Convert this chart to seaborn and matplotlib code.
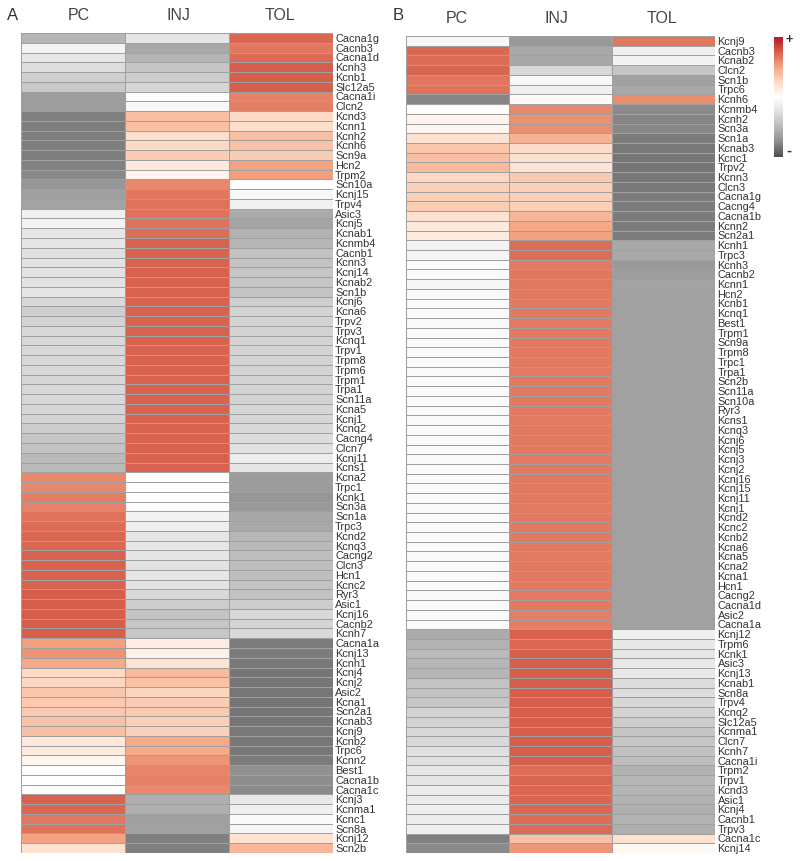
import pandas as pd
import seaborn as sns
import matplotlib.pyplot as plt
from matplotlib.colors import LinearSegmentedColormap

groups = ["PC", "INJ", "TOL"]

genes_a = ["Cacna1g", "Cacnb3", "Cacna1d", "Kcnh3", "Kcnb1", "Slc12a5", "Cacna1i", "Clcn2", "Kcnd3", "Kcnn1",
           "Kcnh2", "Kcnh6", "Scn9a", "Hcn2", "Trpm2", "Scn10a", "Kcnj15", "Trpv4", "Asic3", "Kcnj5",
           "Kcnab1", "Kcnmb4", "Cacnb1", "Kcnn3", "Kcnj14", "Kcnab2", "Scn1b", "Kcnj6", "Kcna6", "Trpv2",
           "Trpv3", "Kcnq1", "Trpv1", "Trpm8", "Trpm6", "Trpm1", "Trpa1", "Scn11a", "Kcna5", "Kcnj1",
           "Kcnq2", "Cacng4", "Clcn7", "Kcnj11", "Kcns1", "Kcna2", "Trpc1", "Kcnk1", "Scn3a", "Scn1a",
           "Trpc3", "Kcnd2", "Kcnq3", "Cacng2", "Clcn3", "Hcn1", "Kcnc2", "Ryr3", "Asic1", "Kcnj16",
           "Cacnb2", "Kcnh7", "Cacna1a", "Kcnj13", "Kcnh1", "Kcnj4", "Kcnj2", "Asic2", "Kcna1", "Scn2a1",
           "Kcnab3", "Kcnj9", "Kcnb2", "Trpc6", "Kcnn2", "Best1", "Cacna1b", "Cacna1c", "Kcnj3", "Kcnma1",
           "Kcnc1", "Scn8a", "Kcnj12", "Scn2b"]

pc_a = [-.52, -.10, -.20, -.27, -.36, -.40, -.66, -.66, -.80, -.81,
        -.81, -.81, -.81, -.79, -.77, -.70, -.65, -.62, -.12, -.10,
        -.20, -.20, -.25, -.22, -.22, -.22, -.20, -.30, -.36, -.33,
        -.30, -.30, -.30, -.30, -.30, -.31, -.31, -.31, -.32, -.33,
        -.38, -.42, -.44, -.50, -.50, .60, .60, .64, .62, .68,
        .70, .72, .72, .74, .74, .74, .74, .75, .75, .75,
        .75, .75, .52, .56, .47, .25, .27, .34, .33, .33,
        .37, .38, .16, .15, .07, 0, 0, .01, .74, .72,
        .66, .68, .50, .20]
inj_a = [-.20, -.60, -.53, -.42, -.38, -.32, -.02, -.07, .38, .38,
         .22, .25, .32, .15, .08, .60, .66, .68, .68, .68,
         .70, .74, .74, .74, .74, .74, .74, .74, .74, .74,
         .74, .74, .74, .74, .74, .74, .74, .74, .74, .74,
         .74, .74, .74, .74, .74, 0, 0, 0, -.03, -.10,
         -.14, -.20, -.20, -.20, -.22, -.20, -.22, -.30, -.38, -.44,
         -.42, -.42, .12, .10, .18, .40, .36, .28, .32, .33,
         .30, .30, .47, .47, .55, .61, .63, .60, -.56, -.56,
         -.65, -.64, -.80, -.80]
tol_a = [.72, .66, .71, .75, .75, .75, .62, .64, .25, .22,
         .38, .36, .32, .50, .52, 0, -.07, -.12, -.58, -.62,
         -.54, -.52, -.44, -.44, -.42, -.42, -.44, -.36, -.33, -.33,
         -.33, -.33, -.33, -.33, -.33, -.33, -.33, -.33, -.32, -.32,
         -.30, -.27, -.25, -.15, -.20, -.67, -.67, -.70, -.68, -.60,
         -.60, -.52, -.50, -.47, -.48, -.47, -.44, -.44, -.38, -.30,
         -.33, -.30, -.82, -.82, -.83, -.84, -.84, -.84, -.84, -.84,
         -.84, -.83, -.83, -.83, -.82, -.73, -.75, -.76, -.18, -.13,
         -.05, -.08, .20, .42]

genes_b = ["Kcnj9", "Cacnb3", "Kcnab2", "Clcn2", "Scn1b", "Trpc6", "Kcnh6", "Kcnmb4", "Kcnh2", "Scn3a",
           "Scn1a", "Kcnab3", "Kcnc1", "Trpv2", "Kcnn3", "Clcn3", "Cacna1g", "Cacng4", "Cacna1b", "Kcnn2",
           "Scn2a1", "Kcnh1", "Trpc3", "Kcnh3", "Cacnb2", "Kcnn1", "Hcn2", "Kcnb1", "Kcnq1", "Best1",
           "Trpm1", "Scn9a", "Trpm8", "Trpc1", "Trpa1", "Scn2b", "Scn11a", "Scn10a", "Ryr3", "Kcns1",
           "Kcnq3", "Kcnj6", "Kcnj5", "Kcnj3", "Kcnj2", "Kcnj16", "Kcnj15", "Kcnj11", "Kcnj1", "Kcnd2",
           "Kcnc2", "Kcnb2", "Kcna6", "Kcna5", "Kcna2", "Kcna1", "Hcn1", "Cacng2", "Cacna1d", "Asic2",
           "Cacna1a", "Kcnj12", "Trpm6", "Kcnk1", "Asic3", "Kcnj13", "Kcnab1", "Scn8a", "Trpv4", "Kcnq2",
           "Slc12a5", "Kcnma1", "Clcn7", "Kcnh7", "Cacna1i", "Trpm2", "Trpv1", "Kcnd3", "Asic1", "Kcnj4",
           "Cacnb1", "Trpv3", "Cacna1c", "Kcnj14"]

pc_b = [-.07, .72, .70, .73, .67, .68, -.78, .03, .08, .07,
        .20, .35, .38, .40, .27, .30, .30, .32, .20, .15,
        .15, -.10, -.08, -.03, -.05, -.07, -.05, -.05, -.05, -.05,
        -.05, -.05, -.05, -.05, -.05, -.05, -.05, -.05, -.05, -.05,
        -.05, -.05, -.05, -.05, -.05, -.05, -.05, -.05, -.05, -.05,
        -.05, -.05, -.05, -.05, -.05, -.05, -.05, -.05, -.05, -.05,
        -.04, -.58, -.54, -.50, -.52, -.52, -.44, -.44, -.42, -.33,
        -.33, -.30, -.30, -.25, -.25, -.20, -.20, -.16, -.16, -.14,
        -.15, -.12, -.80, -.76]
inj_b = [-.68, -.60, -.60, -.30, -.06, -.12, .04, .60, .57, .58,
         .43, .24, .20, .18, .33, .30, .30, .30, .42, .48,
         .50, .70, .70, .65, .66, .66, .65, .65, .65, .65,
         .65, .65, .65, .65, .65, .65, .65, .65, .65, .65,
         .65, .65, .65, .65, .65, .65, .65, .65, .65, .65,
         .65, .65, .65, .65, .65, .65, .65, .65, .65, .64,
         .64, .74, .72, .75, .75, .75, .75, .75, .75, .75,
         .75, .75, .75, .75, .75, .70, .73, .72, .72, .72,
         .70, .71, .36, .55]
tol_b = [.66, -.13, -.10, -.42, -.64, -.60, .58, -.76, -.78, -.77,
         -.82, -.83, -.84, -.84, -.83, -.83, -.82, -.82, -.82, -.82,
         -.82, -.60, -.60, -.68, -.66, -.63, -.64, -.64, -.64, -.64,
         -.64, -.64, -.64, -.64, -.64, -.64, -.64, -.64, -.64, -.64,
         -.64, -.64, -.64, -.64, -.64, -.64, -.64, -.64, -.64, -.64,
         -.64, -.64, -.64, -.64, -.64, -.64, -.64, -.64, -.64, -.64,
         -.64, -.12, -.18, -.20, -.18, -.18, -.28, -.28, -.30, -.33,
         -.38, -.42, -.42, -.45, -.48, -.54, -.52, -.53, -.54, -.56,
         -.54, -.57, .20, .04]

plt.rcParams['font.family'] = ['Liberation Sans', 'DejaVu Sans']

# same look as RdGy_r but cut at both dark ends
heat_colors = ["#4d4d4d", "#8e8e8e", "#bababa", "#e0e0e0", "#ffffff", "#fddbc7", "#f4a582", "#d6604d", "#b2182b"]
heat_cmap = LinearSegmentedColormap.from_list("heat", heat_colors)


def draw_panel(ax, genes, pc, inj, tol, head_x, cbar_ax=None):
    table = pd.DataFrame({"PC": pc, "INJ": inj, "TOL": tol}, index=genes)[groups]
    sns.heatmap(table, ax=ax, cmap=heat_cmap, vmin=-1, vmax=1, linewidths=0.45, linecolor="#a0a0a0",
                yticklabels=True, cbar=cbar_ax is not None, cbar_ax=cbar_ax)
    ax.xaxis.tick_top()
    ax.yaxis.tick_right()
    # the column heads are not quite centred in the source
    ax.set_xticks(head_x, groups)
    ax.tick_params(axis="x", length=0, pad=7, labelsize=11.5, labelcolor="#444444")
    ax.tick_params(axis="y", length=0, pad=1.5, labelsize=7.9, labelcolor="#333333", labelrotation=0)


W, H = 800, 861
fig = plt.figure(figsize=(W / 100, H / 100), dpi=100)
ax_a = fig.add_axes([20.5 / W, 1 - 853 / H, (333 - 20.5) / W, (853 - 33) / H])
ax_b = fig.add_axes([406.0 / W, 1 - 853 / H, (715.5 - 406) / W, (853 - 36) / H])
cbar_ax = fig.add_axes([774 / W, 1 - 157 / H, 9 / W, 120 / H])

draw_panel(ax_a, genes_a, pc_a, inj_a, tol_a, [0.56, 1.52, 2.49])
draw_panel(ax_b, genes_b, pc_b, inj_b, tol_b, [0.49, 1.46, 2.48], cbar_ax=cbar_ax)

cbar_ax.set_yticks([])
for spine in cbar_ax.spines.values():
    spine.set_visible(False)

fig.text(12.5 / W, 1 - 15 / H, "A", fontsize=12, color="#333333", ha="center", va="center")
fig.text(398 / W, 1 - 15 / H, "B", fontsize=12, color="#333333", ha="center", va="center")
fig.text(789 / W, 1 - 40 / H, "+", fontsize=9, fontweight="bold", color="#333333", ha="center", va="center")
fig.text(789 / W, 1 - 151 / H, "-", fontsize=11, fontweight="bold", color="#333333", ha="center", va="center")

plt.savefig("out.png", dpi=100)
